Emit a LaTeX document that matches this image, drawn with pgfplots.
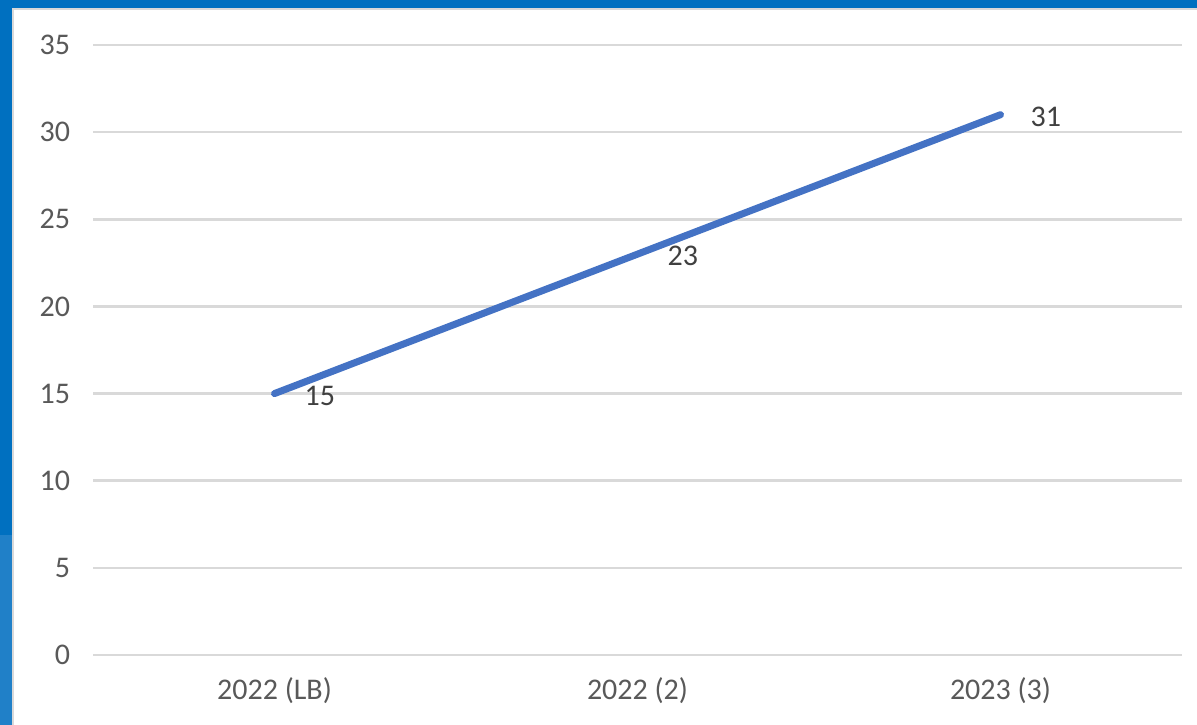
\documentclass[border=0pt]{standalone}
\usepackage{pgfplots}
\pgfplotsset{compat=1.18}
\usepackage{fontspec}
\setmainfont{Carlito}
\definecolor{frameblue}{HTML}{0070C0}
\definecolor{frameblue2}{HTML}{2080C8}
\definecolor{linecol}{HTML}{4472C4}
\definecolor{gridc}{HTML}{D9D9D9}
\definecolor{tickc}{HTML}{595959}
\definecolor{labc}{HTML}{404040}
\begin{document}
\begin{tikzpicture}
\useasboundingbox (0bp,0bp) rectangle (598.5bp,362.5bp);
\fill[frameblue] (0bp,0bp) rectangle (598.5bp,362.5bp);
\fill[frameblue2] (0bp,0bp) rectangle (6bp,95bp);
\fill[white] (6bp,0bp) rectangle (598.5bp,358.5bp);
\draw[gridc, line width=0.8bp] (6.4bp,0bp) -- (6.4bp,358.1bp) -- (598.5bp,358.1bp);
\begin{axis}[
  at={(46.5bp,35bp)}, anchor=south west,
  scale only axis, width=544.5bp, height=305bp,
  xmin=-0.5, xmax=2.5, ymin=0, ymax=35,
  ytick={0,5,...,35}, xtick={0,1,2},
  xticklabels={2022 (LB),2022 (2),2023 (3)},
  axis line style={draw=none},
  major tick length=0pt,
  ymajorgrids,
  grid style={gridc, line width=1.25bp},
  tick label style={font=\fontsize{15bp}{18bp}\selectfont, text=tickc},
  yticklabel style={xshift=-8bp},
  xticklabel style={yshift=-8bp},
  /pgf/number format/assume math mode=true,
  clip=false,
]
\addplot[linecol, line width=3.5bp, line cap=round,
  nodes near coords,
  nodes near coords style={anchor=west, xshift=10bp, yshift=-1bp,
    font=\fontsize{15bp}{18bp}\selectfont, text=labc}]
  coordinates {(0,15) (1,23) (2,31)};
\end{axis}
\end{tikzpicture}
\end{document}
